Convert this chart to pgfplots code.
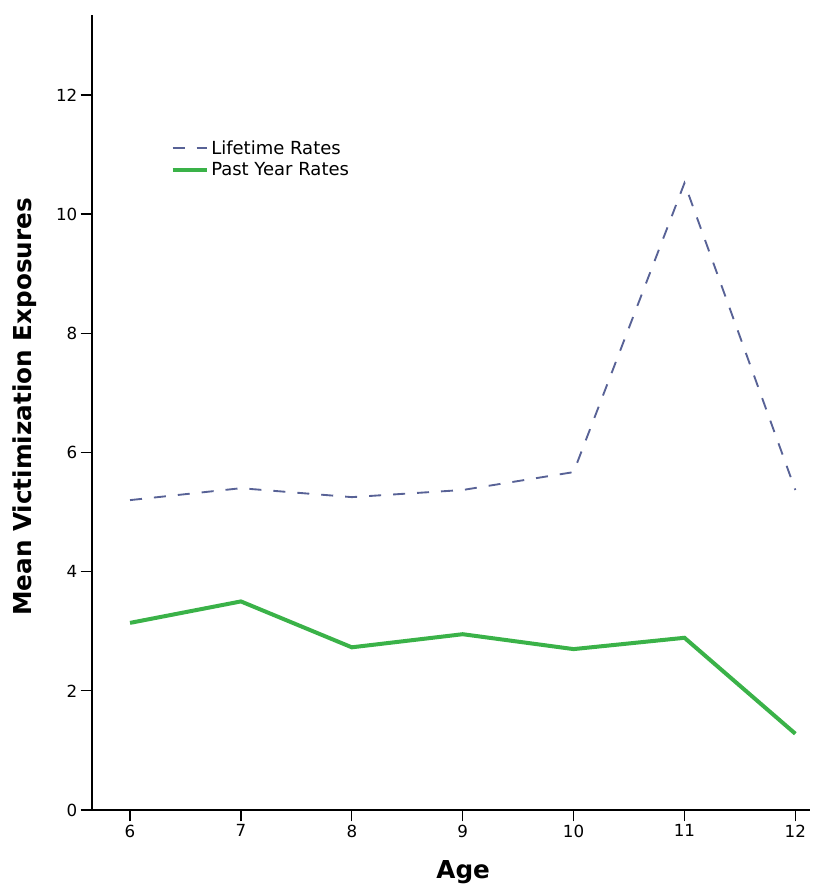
\documentclass[border=0pt]{standalone}
\usepackage{fontspec}
\setmainfont{DejaVu Sans}
\usepackage{pgfplots}
\pgfplotsset{compat=1.18}
\definecolor{lifec}{RGB}{88,98,150}
\definecolor{pastc}{RGB}{58,178,72}
\begin{document}
\begin{tikzpicture}
\begin{axis}[
  scale only axis,
  width=538.5pt, height=596pt,
  xmin=5.657, xmax=12.135,
  ymin=0, ymax=13.34,
  axis x line*=bottom, axis y line*=left,
  axis line style={line width=2.2pt, black},
  xtick={6,7,8,9,10,11,12},
  ytick={0,2,4,6,8,10,12},
  tick align=outside,
  major tick length=8.5pt,
  tick style={line width=1pt, black},
  ticklabel style={font=\fontsize{12.5}{14}\selectfont},
  xticklabel style={yshift=1pt},
  yticklabel style={xshift=1pt},
  /pgf/number format/assume math mode=true,
  xlabel={\textbf{Age}},
  ylabel={\textbf{Mean Victimization Exposures}},
  every axis x label/.style={at={(rel axis cs:0.5167,-0.078)}, anchor=center, font=\fontsize{18.5}{22}\selectfont},
  every axis y label/.style={at={(rel axis cs:-0.0933,0.507)}, anchor=center, rotate=90, font=\fontsize{18.5}{22}\selectfont},
  legend style={at={(0.109,0.845)}, anchor=north west, draw=none, fill=none,
    font=\fontsize{13.5}{15}\selectfont, row sep=2pt,
    inner sep=0pt, nodes={inner sep=1.5pt}},
  legend cell align=left,
  legend image code/.code={\draw[#1] (0pt,0pt) -- (26pt,0pt);},
  clip=false,
]
\addplot[color=lifec, line width=1.4pt, dash pattern=on 9pt off 9pt] coordinates {
  (6,5.20) (7,5.40) (8,5.25) (9,5.37) (10,5.67) (11,10.52) (12,5.37)
};
\addlegendentry{Lifetime Rates}
\addplot[color=pastc, line width=3pt] coordinates {
  (6,3.14) (7,3.50) (8,2.73) (9,2.95) (10,2.70) (11,2.89) (12,1.28)
};
\addlegendentry{Past Year Rates}
\coordinate (bl) at (rel axis cs:-0.1281,-0.1069);
\coordinate (tr) at (rel axis cs:1.0209,1.0189);
\end{axis}
\pgfresetboundingbox
\path (bl) rectangle (tr);
\end{tikzpicture}
\end{document}
